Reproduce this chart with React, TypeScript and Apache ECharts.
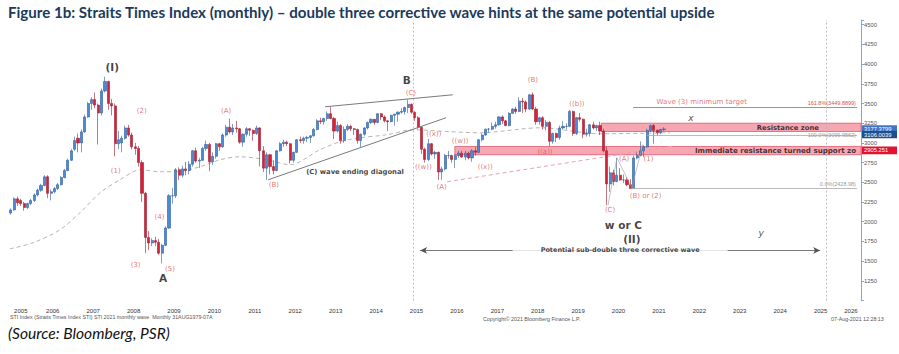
import React, { useEffect, useRef } from "react";
import * as echarts from "echarts";

// ---------- DATA ----------
// Monthly candles [open, close, low, high], starting June 2005
const candles2005 = [
  [2110, 2150, 2090, 2170], [2150, 2290, 2140, 2310], [2290, 2240, 2200, 2320],
  [2270, 2230, 2200, 2290], [2230, 2180, 2140, 2250], [2180, 2230, 2160, 2240],
  [2230, 2270, 2210, 2290],
];
const candles2006 = [
  [2270, 2340, 2250, 2360], [2340, 2400, 2320, 2420], [2400, 2460, 2380, 2480],
  [2460, 2570, 2450, 2590], [2570, 2360, 2300, 2590], [2360, 2380, 2270, 2410],
  [2380, 2420, 2360, 2440], [2420, 2470, 2400, 2490], [2470, 2560, 2460, 2580],
  [2560, 2650, 2550, 2670], [2650, 2780, 2640, 2800], [2780, 2900, 2770, 2920],
];
const candles2007 = [
  [2920, 3030, 2900, 3080], [3060, 3000, 2880, 3120], [3000, 3140, 2880, 3170],
  [3140, 3330, 3130, 3360], [3330, 3500, 3320, 3520], [3500, 3550, 3420, 3580],
  [3550, 3480, 3440, 3640], [3480, 3380, 2980, 3500], [3380, 3660, 3350, 3690],
  [3660, 3780, 3640, 3840], [3780, 3500, 3420, 3790], [3500, 3470, 3350, 3560],
];
const candles2008 = [
  [3470, 2990, 2830, 3500], [2990, 3040, 2920, 3150], [3000, 3060, 2880, 3090],
  [3060, 3190, 3040, 3220], [3190, 3100, 3080, 3230], [3100, 2950, 2920, 3130],
  [2950, 2930, 2850, 3000], [2930, 2750, 2700, 2960], [2750, 2360, 2250, 2780],
  [2360, 1800, 1600, 2380], [1800, 1730, 1640, 1880], [1730, 1760, 1690, 1790],
];
const candles2009 = [
  [1760, 1740, 1690, 1810], [1740, 1600, 1580, 1780], [1600, 1700, 1470, 1720],
  [1700, 1920, 1690, 1940], [1920, 2330, 1910, 2350], [2330, 2330, 2230, 2430],
  [2330, 2660, 2300, 2680], [2660, 2590, 2530, 2690], [2590, 2670, 2560, 2710],
  [2670, 2650, 2590, 2760], [2650, 2730, 2600, 2770], [2730, 2900, 2700, 2910],
];
const candles2010 = [
  [2900, 2770, 2750, 2940], [2770, 2780, 2680, 2810], [2780, 2930, 2770, 2950],
  [2930, 2980, 2900, 3030], [2980, 2760, 2640, 3000], [2760, 2830, 2720, 2880],
  [2830, 2990, 2800, 3000], [2990, 2950, 2900, 3000], [2950, 3100, 2940, 3120],
  [3100, 3200, 3080, 3230], [3200, 3140, 3120, 3310], [3140, 3190, 3100, 3240],
];
const candles2011 = [
  [3190, 3180, 3130, 3280], [3180, 3010, 2990, 3190], [3010, 3110, 2950, 3120],
  [3110, 3180, 3080, 3200], [3180, 3160, 3090, 3190], [3160, 3120, 3030, 3170],
  [3120, 3190, 3100, 3220], [3190, 2900, 2700, 3200], [2900, 2680, 2630, 2960],
  [2680, 2850, 2530, 2880], [2850, 2700, 2600, 2860], [2700, 2650, 2600, 2780],
];
const candles2012 = [
  [2650, 2900, 2640, 2910], [2900, 2990, 2890, 3010], [2990, 3010, 2950, 3040],
  [3010, 2990, 2960, 3030], [2990, 2780, 2740, 3000], [2780, 2880, 2750, 2890],
  [2880, 3040, 2870, 3050], [3040, 3030, 3000, 3080], [3030, 3060, 2990, 3080],
  [3060, 3070, 3010, 3090], [3070, 3090, 3000, 3100], [3090, 3170, 3080, 3190],
];
const candles2013 = [
  [3170, 3280, 3160, 3300], [3280, 3270, 3240, 3320], [3270, 3310, 3230, 3320],
  [3310, 3370, 3280, 3400], [3370, 3310, 3300, 3460], [3310, 3150, 3050, 3330],
  [3150, 3220, 3130, 3270], [3220, 3030, 2990, 3240], [3030, 3170, 3000, 3210],
  [3170, 3210, 3150, 3240], [3210, 3180, 3150, 3230], [3180, 3170, 3100, 3190],
];
const candles2014 = [
  [3170, 3030, 2990, 3180], [3030, 3110, 2950, 3120], [3110, 3190, 3090, 3200],
  [3190, 3260, 3170, 3270], [3260, 3300, 3240, 3310], [3300, 3260, 3230, 3300],
  [3260, 3370, 3250, 3380], [3370, 3330, 3290, 3380], [3330, 3280, 3260, 3350],
  [3280, 3270, 3150, 3290], [3270, 3350, 3260, 3360], [3350, 3365, 3220, 3370],
];
const candles2015 = [
  [3365, 3390, 3270, 3400], [3390, 3400, 3370, 3440], [3400, 3450, 3360, 3460],
  [3450, 3490, 3380, 3550], [3490, 3390, 3370, 3500], [3390, 3320, 3280, 3400],
  [3320, 3200, 3180, 3340], [3200, 2920, 2860, 3210], [2920, 2790, 2750, 2940],
  [2790, 2990, 2770, 3050], [2990, 2860, 2840, 3000], [2860, 2880, 2800, 2900],
];
const candles2016 = [
  [2880, 2630, 2530, 2890], [2630, 2670, 2530, 2700], [2670, 2840, 2650, 2860],
  [2840, 2840, 2800, 2900], [2840, 2790, 2750, 2850], [2790, 2840, 2680, 2860],
  [2840, 2870, 2810, 2900], [2870, 2820, 2810, 2900], [2820, 2870, 2780, 2900],
  [2870, 2810, 2790, 2890], [2810, 2900, 2760, 2920], [2900, 2880, 2840, 2950],
];
const candles2017 = [
  [2880, 3040, 2870, 3050], [3040, 3100, 3020, 3120], [3100, 3175, 3090, 3180],
  [3175, 3175, 3130, 3190], [3175, 3210, 3160, 3260], [3210, 3230, 3180, 3270],
  [3230, 3330, 3220, 3340], [3330, 3280, 3240, 3350], [3280, 3220, 3210, 3290],
  [3220, 3375, 3210, 3390], [3375, 3430, 3370, 3440], [3430, 3400, 3370, 3460],
];
const candles2018 = [
  [3400, 3530, 3390, 3580], [3530, 3520, 3380, 3570], [3520, 3430, 3390, 3540],
  [3430, 3610, 3420, 3620], [3610, 3430, 3420, 3640], [3430, 3270, 3230, 3460],
  [3270, 3320, 3230, 3330], [3320, 3210, 3170, 3340], [3210, 3260, 3160, 3290],
  [3260, 3020, 2960, 3280], [3020, 3120, 2990, 3130], [3120, 3070, 3010, 3130],
];
const candles2019 = [
  [3070, 3190, 3040, 3220], [3190, 3210, 3170, 3280], [3210, 3210, 3170, 3250],
  [3210, 3400, 3200, 3420], [3400, 3120, 3090, 3410], [3120, 3320, 3100, 3330],
  [3320, 3300, 3270, 3380], [3300, 3110, 3060, 3310], [3110, 3120, 3080, 3180],
  [3120, 3230, 3080, 3240], [3230, 3190, 3170, 3270], [3190, 3220, 3150, 3230],
];
const candles2020 = [
  [3220, 3150, 3100, 3270], [3150, 2900, 2880, 3180], [2900, 2480, 2210, 2950],
  [2480, 2620, 2380, 2700], [2620, 2510, 2460, 2660], [2510, 2590, 2500, 2810],
  [2590, 2530, 2520, 2680], [2530, 2530, 2490, 2600], [2530, 2470, 2450, 2560],
  [2470, 2420, 2420, 2540], [2420, 2810, 2420, 2840], [2810, 2840, 2790, 2880],
];
const candles2021 = [
  [2840, 2900, 2830, 3020], [2900, 2950, 2820, 2970], [2950, 3160, 2940, 3180],
  [3160, 3220, 3140, 3230], [3220, 3160, 2990, 3240], [3160, 3130, 3100, 3170],
  [3130, 3170, 3110, 3180], [3170, 3177, 3150, 3200],
];

// Long-term dashed moving average, [year, value]
const maPoints = [
  [2005.44, 1656], [2006.01, 1733], [2006.68, 1898], [2007.17, 2113], [2007.67, 2367],
  [2008.16, 2532], [2008.66, 2659], [2009.15, 2634], [2009.57, 2634], [2010.14, 2697],
  [2010.64, 2786], [2011.13, 2824], [2011.80, 2786], [2012.37, 2723], [2013.11, 2913],
  [2013.61, 3015], [2014.10, 3065], [2014.77, 3104], [2015.41, 3167], [2016.33, 3142],
  [2017.07, 3129], [2018.56, 3192], [2020.04, 3116], [2021.77, 3129],
];
const pinkTrend = [[2016.26, 2507], [2021.90, 2964]];
const wedgeUpper = [[2013.24, 3459], [2016.40, 3611]];
const wedgeLower = [[2011.83, 2532], [2016.23, 3319]];
const waveLines = [[2020.24, 2210], [2020.46, 2810], [2020.83, 2430], [2021.10, 2980]];

const yearLabels = [2005, 2006, 2007, 2008, 2009, 2010, 2011, 2012, 2013, 2014, 2015,
  2016, 2017, 2018, 2019, 2020, 2021, 2022, 2023, 2024, 2025, 2026];

const resistanceZone = [3145, 3250];
const supportZone = [2850, 2955];
const fibLevels = [
  { value: 3449.8899, text: "161.8%(3449.8899)", from: 2020.86, color: "#d9534f", pos: "insideEndTop" },
  { value: 3099.9562, text: "100.0%(3099.9562)", from: 2021.2, color: "#aaaaaa", pos: "insideEnd" },
  { value: 2428.98, text: "0.0%(2428.98)", from: 2020.82, color: "#aaaaaa", pos: "insideEndTop" },
];
const badges = [
  { value: 3177.3799, text: "3177.3799", color: "#3f74c6" },
  { value: 3106.0039, text: "3106.0039", color: "#1f4e8a" },
  { value: 2905.251, text: "2905.251", color: "#e3132f" },
];
const verticalMarks = [2015.41, 2025.63];

const annotations = [
  { x: 2007.97, y: 3965, text: "(I)", kind: "wave" },
  { x: 2008.70, y: 3410, text: "(2)", kind: "red" },
  { x: 2008.06, y: 2640, text: "(1)", kind: "red" },
  { x: 2009.14, y: 2065, text: "(4)", kind: "red" },
  { x: 2008.55, y: 1455, text: "(3)", kind: "red" },
  { x: 2009.40, y: 1400, text: "(5)", kind: "red" },
  { x: 2009.23, y: 1285, text: "A", kind: "wave" },
  { x: 2010.79, y: 3410, text: "(A)", kind: "red" },
  { x: 2015.26, y: 3800, text: "B", kind: "wave" },
  { x: 2015.36, y: 3633, text: "(C)", kind: "red" },
  { x: 2011.97, y: 2470, text: "(B)", kind: "red" },
  { x: 2013.98, y: 2630, text: "(C) wave ending diagonal", kind: "note" },
  { x: 2015.93, y: 3115, text: "((x))", kind: "red" },
  { x: 2015.67, y: 2695, text: "((w))", kind: "red" },
  { x: 2016.12, y: 2435, text: "(A)", kind: "red" },
  { x: 2018.38, y: 3793, text: "(B)", kind: "red" },
  { x: 2016.58, y: 3018, text: "((w))", kind: "red" },
  { x: 2017.20, y: 2694, text: "((x))", kind: "red" },
  { x: 2018.68, y: 2879, text: "((a))", kind: "red" },
  { x: 2019.47, y: 3497, text: "((b))", kind: "red" },
  { x: 2020.29, y: 2143, text: "(C)", kind: "red" },
  { x: 2020.64, y: 2795, text: "(A)", kind: "red" },
  { x: 2021.24, y: 2795, text: "(1)", kind: "red" },
  { x: 2021.17, y: 2329, text: "(B) or (2)", kind: "red" },
  { x: 2022.29, y: 3316, text: "x", kind: "italic" },
  { x: 2022.56, y: 3519, text: "Wave (3) minimum target", kind: "red" },
  { x: 2020.62, y: 1961, text: "w or C", kind: "wave" },
  { x: 2020.83, y: 1775, text: "(II)", kind: "wave" },
  { x: 2024.03, y: 1863, text: "y", kind: "italic" },
  { x: 2024.69, y: 3195, text: "Resistance zone", kind: "note" },
  { x: 2022.39, y: 2900, text: "Immediate resistance turned support zo", kind: "noteLeft" },
];
const arrowLine = { from: 2015.59, to: 2025.49, value: 1636, text: "Potential sub-double three corrective wave" };

// ---------- LAYOUT / BUILD ----------
const MONTH_SLOTS = 253;
const X0 = 2005 + 5 / 12; // start of June 2005
const X1 = X0 + MONTH_SLOTS / 12;

const candles = [
  ...candles2005, ...candles2006, ...candles2007, ...candles2008, ...candles2009,
  ...candles2010, ...candles2011, ...candles2012, ...candles2013, ...candles2014,
  ...candles2015, ...candles2016, ...candles2017, ...candles2018, ...candles2019,
  ...candles2020, ...candles2021,
];
const months: string[] = [];
for (let i = 0; i < MONTH_SLOTS; i++) {
  const m = 5 + i;
  const y = 2005 + Math.floor(m / 12);
  months.push(`${y}-${String((m % 12) + 1).padStart(2, "0")}`);
}
const yearCenters = yearLabels.map((y) => {
  const a = Math.max(y, X0);
  const b = Math.min(y + 1, X1);
  return (a + b) / 2;
});

const FONT = "DejaVu Sans";
const styleFor = (kind: string) => {
  switch (kind) {
    case "red":
      return { fontSize: 7, color: "#d9534f", fontFamily: FONT };
    case "wave":
      return { fontSize: 10.5, color: "#111", fontWeight: "bold", fontFamily: FONT };
    case "note":
      return { fontSize: 6.8, color: "#111", fontWeight: "bold", fontFamily: FONT };
    case "noteLeft":
      return { fontSize: 7.1, color: "#111", fontWeight: "bold", fontFamily: FONT };
    default:
      return { fontSize: 9, color: "#222", fontStyle: "italic", fontFamily: FONT };
  }
};

const option: any = {
  animation: false,
  backgroundColor: "#ffffff",
  grid: { left: 9, right: 38, top: 20, bottom: 53.5, containLabel: false },
  xAxis: [
    { type: "category", data: months, boundaryGap: true, show: false, position: "top" },
    {
      type: "value", min: X0, max: X1, position: "bottom",
      axisLine: { show: false }, axisTick: { show: false }, splitLine: { show: false },
      axisLabel: {
        customValues: yearCenters, showMinLabel: true, showMaxLabel: true,
        formatter: (v: number) => String(Math.floor(v)),
        fontSize: 6, color: "#333", fontFamily: "Liberation Sans", margin: 7,
      },
    },
  ],
  yAxis: {
    type: "value", position: "right", min: 1000, max: 4560, interval: 250,
    axisLine: { show: true, lineStyle: { color: "#7fa7d0", width: 1 } },
    axisTick: { show: true, length: 3, lineStyle: { color: "#7fa7d0" } },
    splitLine: { show: false },
    axisLabel: {
      fontSize: 5.8, color: "#555", margin: 3, fontFamily: "Liberation Sans",
      formatter: (v: number) => (v >= 1250 && v <= 4500 && v % 250 === 0 ? String(v) : ""),
    },
  },
  series: [
    {
      type: "line", xAxisIndex: 1, data: maPoints, smooth: 0.3, symbol: "none", z: 1,
      lineStyle: { color: "#b5b5b5", width: 1, type: [4, 3] },
      markArea: {
        silent: true,
        itemStyle: { color: "#f6a7b2", borderColor: "#e0576c", borderWidth: 0.8 },
        data: [
          [{ coord: [2020.07, resistanceZone[0]] }, { coord: [X1, resistanceZone[1]] }],
          [{ coord: [2016.45, supportZone[0]] }, { coord: [X1, supportZone[1]] }],
        ],
      },
      markLine: {
        silent: true, symbol: ["none", "none"],
        data: [
          ...fibLevels.map((f) => [
            {
              coord: [f.from, f.value], lineStyle: { color: f.color, width: 0.8, type: "solid" },
              label: {
                show: true, position: f.pos, formatter: f.text, fontSize: 5.5,
                color: f.color === "#aaaaaa" ? "#999" : f.color, fontFamily: "Liberation Sans", distance: 1,
              },
            },
            { coord: [2026.4, f.value] },
          ]),
          ...verticalMarks.map((x) => ({
            xAxis: x, lineStyle: { color: "#b0b0b0", width: 0.8, type: [2, 2] }, label: { show: false },
          })),
        ],
      },
    },
    {
      type: "line", xAxisIndex: 1, data: pinkTrend, symbol: "none", z: 2,
      lineStyle: { color: "#e8a2aa", width: 1, type: [4, 3] },
    },
    {
      type: "line", xAxisIndex: 1, data: wedgeUpper, symbol: "none", z: 4,
      lineStyle: { color: "#7a7a7a", width: 1 },
    },
    {
      type: "line", xAxisIndex: 1, data: wedgeLower, symbol: "none", z: 4,
      lineStyle: { color: "#7a7a7a", width: 1 },
    },
    {
      type: "line", xAxisIndex: 1, data: waveLines, symbol: "none", z: 4,
      lineStyle: { color: "#9a9a9a", width: 0.6 },
    },
    {
      type: "line", xAxisIndex: 1, data: [[arrowLine.from, arrowLine.value]], symbol: "none", z: 4,
      lineStyle: { opacity: 0 },
      markLine: {
        silent: true, symbol: ["arrow", "arrow"], symbolSize: [5, 7],
        lineStyle: { color: "#555", width: 0.8, type: "solid" },
        label: { show: false },
        data: [[
          { coord: [arrowLine.from, arrowLine.value] },
          { coord: [arrowLine.to, arrowLine.value] },
        ]],
      },
    },
    {
      type: "candlestick", xAxisIndex: 0, yAxisIndex: 0, data: candles, barWidth: 2.6, z: 3,
      itemStyle: {
        color: "#4a8ad6", color0: "#d3223a",
        borderColor: "#2d5d9b", borderColor0: "#a11b2d", borderWidth: 0.6,
      },
    },
    {
      type: "scatter", xAxisIndex: 1, symbolSize: 0.1, z: 6, silent: true,
      itemStyle: { color: "transparent" },
      data: [
        ...annotations.map((a) => ({
          value: [a.x, a.y],
          label: {
            show: true,
            position: a.kind === "noteLeft" ? "right" : "inside",
            distance: 0,
            formatter: a.text,
            ...styleFor(a.kind),
          },
        })),
        {
          value: [(arrowLine.from + arrowLine.to) / 2, arrowLine.value],
          label: {
            show: true, position: "inside", formatter: arrowLine.text, fontSize: 6.5,
            fontWeight: "bold", color: "#111", fontFamily: FONT, backgroundColor: "#ffffff",
            padding: [0, 28],
          },
        },
      ],
    },
  ],
};

export default function App() {
  const ref = useRef<HTMLDivElement>(null);
  useEffect(() => {
    if (!ref.current) return;
    const chart = echarts.init(ref.current, undefined, { renderer: "svg" });
    chart.setOption(option);
    const badgeEls = badges.map((b) => {
      const y = chart.convertToPixel({ yAxisIndex: 0 }, b.value) as number;
      return {
        type: "group", x: 862, y: y - 3.8, z: 100,
        children: [
          { type: "rect", shape: { x: 0, y: 0, width: 35, height: 7.6 }, style: { fill: b.color } },
          {
            type: "text", x: 2, y: 3.8,
            style: { text: b.text, fill: "#ffffff", font: '5.8px "Liberation Sans"', textVerticalAlign: "middle" },
          },
        ],
      };
    });
    chart.setOption({
      graphic: [
        {
          type: "text", x: 8, y: 12, z: 100,
          style: {
            text: "Figure 1b: Straits Times Index (monthly) \u2013 double three corrective wave hints at the same potential upside",
            font: 'bold 15.1px "Lato"', fill: "#1b3a5c", textVerticalAlign: "middle",
          },
        },
        {
          type: "text", x: 10, y: 317, z: 100,
          style: {
            text: "STI Index (Straits Times Index STI) STI 2021 monthly wave  Monthly 31AUG1979-07A",
            font: '5.3px "Liberation Sans"', fill: "#555", textVerticalAlign: "middle",
          },
        },
        {
          type: "text", x: 483, y: 319, z: 100,
          style: {
            text: "Copyright\u00a9 2021 Bloomberg Finance L.P.",
            font: '5.3px "Liberation Sans"', fill: "#555", textVerticalAlign: "middle",
          },
        },
        {
          type: "text", x: 831, y: 319, z: 100,
          style: {
            text: "07-Aug-2021 12:28:13",
            font: '5.3px "Liberation Sans"', fill: "#555", textVerticalAlign: "middle",
          },
        },
        {
          type: "text", x: 8, y: 333, z: 100,
          style: {
            text: "(Source: Bloomberg, PSR)",
            font: 'italic 15.6px "Lato"', fill: "#111", textVerticalAlign: "middle",
          },
        },
        ...badgeEls,
      ],
    });
    return () => chart.dispose();
  }, []);
  return <div ref={ref} style={{ position: "absolute", left: 0, top: 0, width: 899, height: 354 }} />;
}
